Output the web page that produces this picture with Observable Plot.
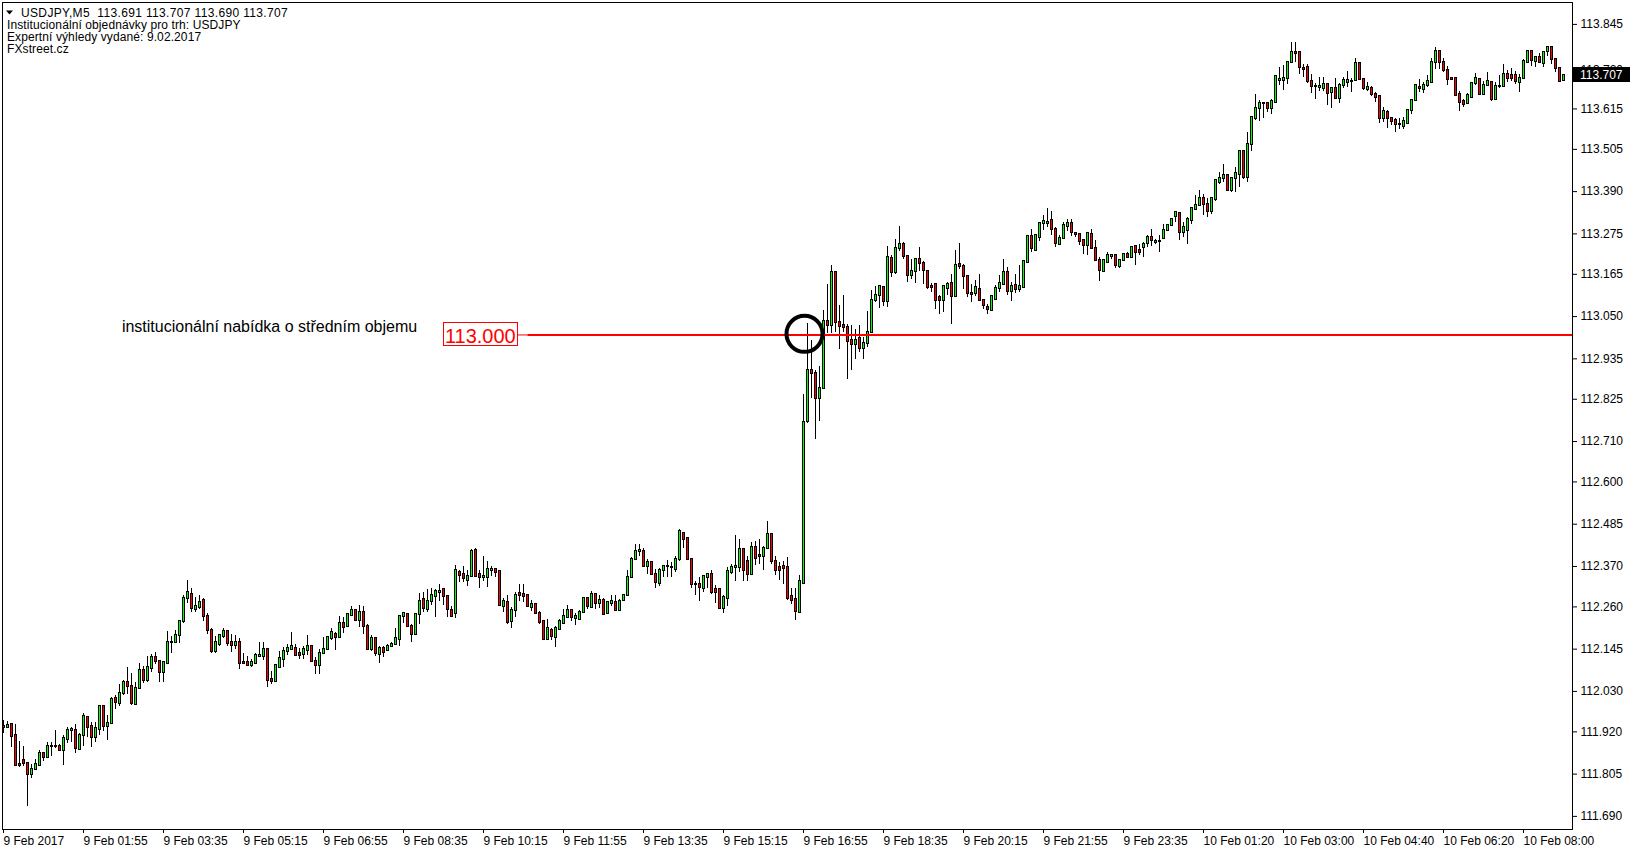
<!DOCTYPE html>
<html><head><meta charset="utf-8">
<script src="https://cdn.jsdelivr.net/npm/d3@7"></script>
<script src="https://cdn.jsdelivr.net/npm/@observablehq/plot@0.6"></script>
<style>
html,body{margin:0;padding:0;background:#fff;}
#chart{position:relative;width:1632px;height:852px;overflow:hidden;}
</style></head><body><div id="chart"></div>
<script>
// ---------- DATA ----------
const headerLines = [
  "USDJPY,M5  113.691 113.707 113.690 113.707",
  "Institucionální objednávky pro trh: USDJPY",
  "Expertní výhledy vydané: 9.02.2017",
  "FXstreet.cz"
];
const timeTickIdx = [0,20,40,60,80,100,120,140,160,180,200,220,240,260,280,300,320,340,360,380];
const timeTickLabels = ["9 Feb 2017","9 Feb 01:55","9 Feb 03:35","9 Feb 05:15","9 Feb 06:55","9 Feb 08:35","9 Feb 10:15","9 Feb 11:55","9 Feb 13:35","9 Feb 15:15","9 Feb 16:55","9 Feb 18:35","9 Feb 20:15","9 Feb 21:55","9 Feb 23:35","10 Feb 01:20","10 Feb 03:00","10 Feb 04:40","10 Feb 06:20","10 Feb 08:00"];
const priceTicks = [113.845,113.720,113.615,113.505,113.390,113.275,113.165,113.050,112.935,112.825,112.710,112.600,112.485,112.370,112.260,112.145,112.030,111.920,111.805,111.690];

const openP = [
111.935,111.932,111.939,111.909,111.831,111.842,111.834,111.804,111.818,111.829,
111.862,111.850,111.879,111.880,111.879,111.869,111.900,111.925,111.925,111.872,
111.909,111.960,111.935,111.905,111.927,111.988,111.935,111.943,112.010,111.998,
112.025,112.055,112.044,111.995,112.039,112.086,112.061,112.093,112.121,112.112,
112.081,112.107,112.164,112.162,112.181,112.219,112.282,112.295,112.252,112.259,
112.277,112.233,112.197,112.138,112.159,112.180,112.192,112.163,112.155,112.164,
112.109,112.108,112.101,112.106,112.125,112.125,112.144,112.062,112.057,112.095,
112.118,112.139,112.144,112.148,112.132,112.130,112.142,112.151,112.112,112.101,
112.134,112.145,112.175,112.186,112.177,112.214,112.207,112.237,112.249,112.224,
112.244,112.208,112.143,112.175,112.130,112.148,112.141,112.151,112.157,112.170,
112.235,112.238,112.208,112.186,112.238,112.279,112.253,112.276,112.288,112.300,
112.306,112.287,112.251,112.243,112.353,112.347,112.333,112.343,112.413,112.348,
112.341,112.341,112.358,112.361,112.355,112.262,112.273,112.221,112.249,112.296,
112.295,112.290,112.259,112.266,112.241,112.220,112.171,112.197,112.177,112.198,
112.215,112.230,112.251,112.229,112.227,112.245,112.282,112.259,112.293,112.270,
112.277,112.241,112.268,112.271,112.251,112.277,112.290,112.340,112.388,112.411,
112.411,112.369,112.380,112.347,112.325,112.358,112.369,112.366,112.363,112.389,
112.460,112.446,112.389,112.321,112.320,112.310,112.341,112.348,112.307,112.307,
112.257,112.284,112.354,112.368,112.366,112.416,112.384,112.348,112.422,112.400,
112.398,112.418,112.457,112.384,112.366,112.369,112.368,112.289,112.280,112.245,
112.325,112.764,112.902,112.896,112.827,112.855,113.037,113.027,113.169,113.034,
113.025,113.019,112.986,112.974,112.989,112.964,112.977,113.007,113.094,113.106,
113.128,113.091,113.209,113.171,113.234,113.247,113.213,113.163,113.174,113.206,
113.195,113.174,113.133,113.138,113.101,113.095,113.127,113.139,113.104,113.191,
113.187,113.160,113.113,113.112,113.124,113.094,113.076,113.067,113.097,113.127,
113.138,113.169,113.118,113.134,113.124,113.129,113.197,113.267,113.229,113.265,
113.302,113.302,113.311,113.288,113.247,113.263,113.295,113.304,113.277,113.274,
113.256,113.244,113.274,113.234,113.202,113.173,113.197,113.213,113.215,113.186,
113.203,113.220,113.210,113.240,113.230,113.238,113.249,113.266,113.252,113.254,
113.262,113.283,113.297,113.322,113.331,113.279,113.284,113.312,113.342,113.353,
113.370,113.356,113.336,113.368,113.415,113.426,113.433,113.392,113.426,113.436,
113.499,113.429,113.517,113.588,113.615,113.629,113.629,113.615,113.633,113.691,
113.691,113.699,113.740,113.768,113.768,113.724,113.727,113.690,113.677,113.674,
113.670,113.682,113.659,113.670,113.644,113.680,113.687,113.690,113.691,113.738,
113.694,113.667,113.670,113.653,113.650,113.590,113.604,113.590,113.583,113.573,
113.568,113.576,113.612,113.638,113.672,113.668,113.679,113.688,113.740,113.770,
113.740,113.720,113.697,113.697,113.653,113.635,113.629,113.647,113.683,113.695,
113.655,113.680,113.686,113.642,113.676,113.676,113.709,113.706,113.706,113.686,
113.699,113.742,113.771,113.744,113.754,113.738,113.770,113.781,113.750,113.724,
113.691];
const highP = [
111.952,111.948,111.941,111.939,111.895,111.879,111.834,111.832,111.844,111.868,
111.865,111.892,111.890,111.924,111.886,111.909,111.931,111.931,111.939,111.915,
111.971,111.963,111.946,111.945,111.992,111.988,111.965,112.013,112.018,112.049,
112.059,112.094,112.079,112.055,112.106,112.097,112.124,112.130,112.136,112.113,
112.112,112.192,112.180,112.197,112.224,112.291,112.332,112.309,112.286,112.291,
112.284,112.241,112.200,112.179,112.186,112.201,112.197,112.184,112.182,112.174,
112.132,112.126,112.117,112.132,112.164,112.162,112.148,112.084,112.104,112.138,
112.150,112.159,112.190,112.159,112.148,112.152,112.182,112.154,112.122,112.143,
112.176,112.179,112.200,112.191,112.233,112.232,112.241,112.262,112.250,112.263,
112.261,112.212,112.182,112.177,112.152,112.152,112.159,112.163,112.202,112.237,
112.244,112.241,112.212,112.241,112.296,112.299,112.306,112.309,112.307,112.321,
112.309,112.290,112.261,112.374,112.360,112.370,112.359,112.416,112.420,112.360,
112.397,112.383,112.370,112.363,112.357,112.282,112.292,112.258,112.298,112.322,
112.322,112.295,112.277,112.268,112.247,112.221,112.227,112.201,112.207,112.227,
112.254,112.263,112.254,112.242,112.250,112.285,112.283,112.302,112.295,112.292,
112.283,112.275,112.291,112.291,112.280,112.295,112.360,112.395,112.429,112.429,
112.418,112.389,112.381,112.363,112.365,112.374,112.386,112.380,112.398,112.470,
112.461,112.448,112.390,112.330,112.339,112.345,112.352,112.359,112.318,112.310,
112.290,112.366,112.375,112.454,112.443,112.419,112.398,112.434,112.437,112.443,
112.425,112.493,112.459,112.398,112.380,112.384,112.395,112.311,112.311,112.345,
112.837,113.032,112.986,112.902,112.913,113.066,113.136,113.189,113.170,113.080,
113.107,113.029,113.025,113.016,113.025,112.993,113.063,113.121,113.132,113.134,
113.131,113.241,113.215,113.259,113.295,113.251,113.213,113.206,113.208,113.238,
113.199,113.174,113.141,113.138,113.108,113.135,113.144,113.164,113.229,113.249,
113.192,113.163,113.138,113.147,113.164,113.097,113.084,113.108,113.134,113.161,
113.206,113.184,113.143,113.165,113.190,113.201,113.270,113.288,113.272,113.306,
113.326,113.343,113.335,113.293,113.270,113.306,113.314,113.314,113.279,113.276,
113.261,113.279,113.288,113.258,113.211,113.204,113.223,113.219,113.217,113.204,
113.221,113.224,113.240,113.242,113.247,113.251,113.270,113.286,113.259,113.270,
113.301,113.301,113.317,113.336,113.333,113.306,113.320,113.345,113.379,113.392,
113.383,113.370,113.374,113.424,113.442,113.465,113.435,113.429,113.456,113.501,
113.501,113.551,113.592,113.653,113.638,113.633,113.629,113.642,113.703,113.729,
113.733,113.740,113.795,113.795,113.768,113.735,113.735,113.710,113.683,113.700,
113.701,113.685,113.674,113.699,113.683,113.701,113.717,113.699,113.751,113.738,
113.699,113.686,113.676,113.660,113.650,113.620,113.610,113.592,113.590,113.588,
113.592,113.613,113.640,113.680,113.694,113.688,113.706,113.751,113.781,113.770,
113.751,113.730,113.701,113.699,113.662,113.642,113.656,113.688,113.712,113.699,
113.690,113.713,113.688,113.688,113.706,113.736,113.720,113.724,113.718,113.708,
113.749,113.774,113.771,113.759,113.765,113.770,113.781,113.781,113.750,113.724,
113.707];
const lowP = [
111.915,111.930,111.877,111.828,111.822,111.825,111.717,111.792,111.815,111.828,
111.839,111.848,111.854,111.874,111.867,111.828,111.888,111.892,111.862,111.868,
111.881,111.904,111.877,111.891,111.910,111.921,111.896,111.942,111.982,111.988,
112.020,112.022,111.993,111.991,112.039,112.052,112.055,112.082,112.104,112.054,
112.054,112.104,112.133,112.161,112.161,112.215,112.268,112.245,112.245,112.254,
112.221,112.186,112.133,112.133,112.152,112.175,112.152,112.136,112.143,112.090,
112.104,112.099,112.094,112.104,112.124,112.114,112.041,112.050,112.055,112.093,
112.095,112.129,112.141,112.126,112.118,112.117,112.127,112.111,112.076,112.076,
112.133,112.143,112.168,112.142,112.175,112.188,112.203,112.233,112.223,112.204,
112.185,112.141,112.139,112.126,112.107,112.123,112.138,112.149,112.155,112.153,
112.215,112.204,112.164,112.185,112.213,112.244,112.246,112.264,112.232,112.274,
112.263,112.230,112.231,112.229,112.327,112.327,112.316,112.341,112.341,112.311,
112.330,112.313,112.343,112.341,112.263,112.245,112.211,112.202,112.231,112.274,
112.272,112.259,112.247,112.239,112.212,112.168,112.169,112.169,112.150,112.198,
112.212,112.229,112.220,112.209,112.222,112.241,112.254,112.256,112.254,112.257,
112.236,112.239,112.261,112.247,112.250,112.274,112.289,112.338,112.386,112.398,
112.367,112.348,112.345,112.309,112.316,112.341,112.341,112.339,112.354,112.384,
112.419,112.387,112.310,112.290,112.275,112.298,112.311,112.293,112.270,112.256,
112.241,112.261,112.348,112.330,112.354,112.328,112.328,112.345,112.373,112.375,
112.360,112.416,112.375,112.345,112.332,112.320,112.277,112.266,112.222,112.243,
112.325,112.760,112.827,112.716,112.764,112.853,113.005,113.005,113.007,112.961,
113.007,112.880,112.904,112.934,112.952,112.934,112.966,113.005,113.087,113.071,
113.078,113.075,113.156,113.164,113.226,113.206,113.143,113.152,113.141,113.172,
113.138,113.123,113.115,113.070,113.056,113.061,113.106,113.029,113.102,113.179,
113.124,113.102,113.088,113.104,113.093,113.070,113.056,113.065,113.095,113.115,
113.137,113.106,113.091,113.113,113.115,113.127,113.195,113.224,113.227,113.254,
113.284,113.293,113.270,113.238,113.243,113.261,113.281,113.268,113.265,113.243,
113.219,113.215,113.232,113.199,113.145,113.170,113.194,113.206,113.181,113.181,
113.201,113.208,113.208,113.190,113.215,113.210,113.239,113.242,113.247,113.224,
113.260,113.281,113.295,113.306,113.256,113.265,113.245,113.301,113.340,113.351,
113.324,113.320,113.329,113.363,113.410,113.415,113.390,113.388,113.388,113.401,
113.424,113.415,113.499,113.583,113.581,113.590,113.604,113.599,113.631,113.679,
113.665,113.681,113.738,113.742,113.710,113.701,113.683,113.658,113.640,113.662,
113.662,113.624,113.617,113.642,113.630,113.670,113.674,113.659,113.690,113.692,
113.664,113.662,113.650,113.633,113.574,113.579,113.563,113.570,113.551,113.560,
113.559,113.573,113.601,113.636,113.660,113.656,113.674,113.683,113.722,113.722,
113.713,113.680,113.692,113.650,113.609,113.620,113.626,113.644,113.679,113.651,
113.653,113.677,113.636,113.640,113.671,113.674,113.688,113.690,113.681,113.660,
113.697,113.738,113.731,113.729,113.738,113.727,113.759,113.735,113.715,113.688,
113.690];
const closeP = [
111.932,111.938,111.908,111.828,111.829,111.833,111.804,111.818,111.832,111.862,
111.850,111.881,111.881,111.881,111.869,111.903,111.925,111.927,111.874,111.909,
111.962,111.932,111.905,111.930,111.988,111.935,111.943,112.009,112.000,112.025,
112.053,112.044,111.997,112.039,112.086,112.061,112.096,112.123,112.112,112.081,
112.109,112.164,112.162,112.182,112.219,112.282,112.300,112.257,112.261,112.273,
112.233,112.197,112.138,112.162,112.182,112.192,112.161,112.155,112.164,112.106,
112.107,112.101,112.108,112.129,112.127,112.144,112.059,112.057,112.100,112.119,
112.140,112.146,112.151,112.128,112.127,112.144,112.153,112.112,112.101,112.134,
112.145,112.176,112.189,112.177,112.214,112.204,112.238,112.249,112.224,112.244,
112.208,112.143,112.175,112.134,112.148,112.137,112.153,112.157,112.173,112.235,
112.242,112.208,112.186,112.238,112.276,112.255,112.276,112.290,112.301,112.303,
112.287,112.252,112.234,112.358,112.346,112.338,112.344,112.411,112.343,112.341,
112.342,112.362,112.362,112.354,112.265,112.276,112.218,112.251,112.291,112.291,
112.289,112.262,112.266,112.242,112.218,112.171,112.200,112.180,112.200,112.219,
112.233,112.251,112.232,112.235,112.245,112.282,112.261,112.293,112.270,112.277,
112.239,112.272,112.274,112.250,112.276,112.291,112.340,112.389,112.411,112.413,
112.369,112.380,112.347,112.327,112.358,112.371,112.370,112.367,112.389,112.466,
112.443,112.389,112.320,112.320,112.314,112.343,112.348,112.298,112.298,112.257,
112.286,112.356,112.368,112.369,112.416,112.359,112.348,112.422,112.393,112.396,
112.419,112.457,112.384,112.359,112.359,112.364,112.284,112.277,112.247,112.330,
112.761,112.902,112.896,112.827,112.855,113.037,113.027,113.170,113.034,113.023,
113.020,112.982,112.974,112.986,112.964,112.978,113.007,113.094,113.106,113.131,
113.091,113.210,113.171,113.236,113.247,113.214,113.163,113.174,113.206,113.195,
113.176,113.129,113.128,113.095,113.094,113.131,113.137,113.104,113.190,113.185,
113.160,113.114,113.111,113.128,113.094,113.081,113.070,113.104,113.127,113.139,
113.169,113.118,113.132,113.124,113.132,113.199,113.267,113.234,113.270,113.302,
113.308,113.307,113.286,113.250,113.263,113.299,113.304,113.279,113.274,113.254,
113.244,113.277,113.234,113.202,113.175,113.202,113.217,113.217,113.188,113.203,
113.220,113.210,113.237,113.224,113.224,113.245,113.266,113.257,113.253,113.255,
113.285,113.299,113.315,113.334,113.279,113.293,113.313,113.343,113.353,113.370,
113.356,113.336,113.371,113.420,113.427,113.433,113.392,113.426,113.438,113.499,
113.429,113.517,113.591,113.615,113.631,113.631,113.617,113.634,113.702,113.695,
113.699,113.740,113.768,113.767,113.729,113.723,113.690,113.677,113.676,113.675,
113.682,113.656,113.670,113.644,113.680,113.691,113.691,113.689,113.738,113.694,
113.670,113.672,113.653,113.647,113.590,113.608,113.590,113.581,113.572,113.572,
113.580,113.612,113.638,113.679,113.671,113.679,113.690,113.740,113.770,113.740,
113.720,113.694,113.696,113.651,113.633,113.628,113.651,113.683,113.697,113.655,
113.680,113.690,113.642,113.676,113.675,113.709,113.697,113.697,113.690,113.697,
113.744,113.771,113.746,113.754,113.740,113.768,113.781,113.750,113.724,113.690,
113.707];

// annotation data (bar index / price)
const levelPrice = 113.000;
const levelLabelText = "113.000";
const levelLabelIdx = [109.95, 128.45];
const levelLineFromIdx = 131.1;
const noteText = "institucionální nabídka o středním objemu";
const noteIdx = 29.6, notePrice = 113.021;
const circleIdx = 200.25, circlePrice = 113.003;
const lastPrice = closeP[closeP.length - 1];

// ---------- CHART ----------
const BULL = "#00ff00", BEAR = "#ff0000";
const FONT = "'Liberation Sans', Arial, sans-serif";
const candles = openP.map((o, i) => ({
  i, o, h: Math.max(highP[i], o, closeP[i]), l: Math.min(lowP[i], o, closeP[i]), c: closeP[i]
}));
const tickLabelOf = new Map(timeTickIdx.map((t, k) => [t, timeTickLabels[k]]));

const chart = Plot.plot({
  width: 1632, height: 852,
  marginLeft: 2, marginRight: 60, marginTop: 2, marginBottom: 23,
  x: {domain: [-0.25, 392.25]},
  y: {domain: [111.6543, 113.9046]},
  color: {type: "identity"},
  style: {fontFamily: FONT, fontSize: "12px", background: "#fff", color: "#000", overflow: "visible"},
  marks: [
    Plot.axisX({ticks: timeTickIdx, tickFormat: d => tickLabelOf.get(d), tickSize: 4, tickPadding: 3,
      textAnchor: "start", fontSize: 12, label: null, stroke: "#000", fill: "#000"}),
    Plot.axisY({anchor: "right", ticks: priceTicks, tickFormat: d => d.toFixed(3), tickSize: 4, tickPadding: 4,
      fontSize: 12, label: null, stroke: "#000", fill: "#000"}),
    Plot.ruleX(candles, {x: "i", y1: "l", y2: "h", stroke: "#000", strokeWidth: 1, shapeRendering: "crispEdges"}),
    Plot.rect(candles, {
      x1: d => d.i - 0.25, x2: d => d.i + 0.25,
      y1: d => Math.min(d.o, d.c), y2: d => Math.max(d.o, d.c),
      fill: d => d.c >= d.o ? BULL : BEAR, stroke: "#000", strokeWidth: 1,
      insetTop: -0.5, insetBottom: -0.5, shapeRendering: "crispEdges"
    }),
    Plot.ruleY([levelPrice], {x1: levelLabelIdx[1], x2: levelLineFromIdx, stroke: "#ff0000", strokeWidth: 1}),
    Plot.ruleY([levelPrice], {x1: levelLineFromIdx, x2: 392.25, stroke: "#ff0000", strokeWidth: 2}),
    Plot.text([noteText], {x: noteIdx, y: notePrice, text: d => d, textAnchor: "start", fontSize: 16, fontFamily: FONT, fill: "#000"}),
    Plot.dot([{i: circleIdx, p: circlePrice}], {x: "i", y: "p", r: 18, stroke: "#000", strokeWidth: 4, fill: "none"}),
    Plot.frame({stroke: "#000"})
  ]
});
document.getElementById("chart").appendChild(chart);

const svg = d3.select(chart);
const xs = chart.scale("x"), ys = chart.scale("y");

// header text inside the chart window
svg.append("path").attr("d", "M6,10.5 L13,10.5 L9.5,14.5 Z").attr("fill", "#000");
headerLines.forEach((t, k) => {
  svg.append("text")
    .attr("x", k === 0 ? 21 : 7).attr("y", 16.7 + k * 12.1)
    .attr("text-anchor", "start")
    .attr("letter-spacing", k === 0 ? 0.35 : 0.1)
    .attr("font-family", FONT).attr("font-size", 12).attr("fill", "#000")
    .style("white-space", "pre").text(t);
});

// level label box
const yl = ys.apply(levelPrice);
const bx1 = xs.apply(levelLabelIdx[0]), bx2 = xs.apply(levelLabelIdx[1]);
svg.append("rect").attr("x", Math.round(bx1) + 0.5).attr("y", Math.round(yl - 12) + 0.5)
  .attr("width", Math.round(bx2 - bx1)).attr("height", 23)
  .attr("fill", "#fff").attr("stroke", "#ff0000").attr("stroke-width", 1);
svg.append("text").attr("x", (bx1 + bx2) / 2 + 0.5).attr("y", yl + 8.5)
  .attr("text-anchor", "middle").attr("font-family", FONT).attr("font-size", 20)
  .attr("fill", "#ff0000").text(levelLabelText);

// current price box on price axis
const yp = ys.apply(lastPrice);
svg.append("rect").attr("x", 1573).attr("y", Math.round(yp - 7.5)).attr("width", 57).attr("height", 15).attr("fill", "#000");
svg.append("text").attr("x", 1580).attr("y", yp + 4.3).attr("text-anchor", "start")
  .attr("font-family", FONT).attr("font-size", 12)
  .attr("fill", "#fff").text(lastPrice.toFixed(3));
</script></body></html>
